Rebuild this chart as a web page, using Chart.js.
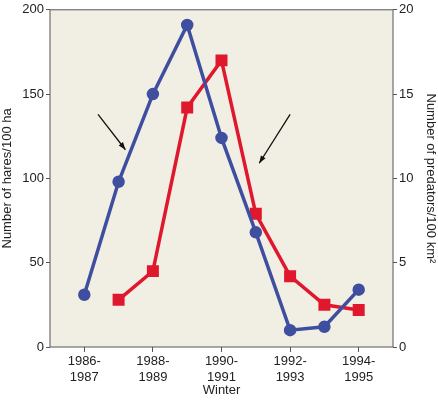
<!DOCTYPE html>
<html lang="en">
<head>
<meta charset="UTF-8">
<title>Hares and lynx</title>
<script src="https://cdn.jsdelivr.net/npm/chart.js"></script>
<style>body{margin:0;background:#fff}</style>
</head>
<body>
<canvas id="c" width="438" height="402"></canvas>
<script>
// winter index 0 = 1986-1987 ... 8 = 1994-1995
const winters = ['1986-1987','1987-1988','1988-1989','1989-1990','1990-1991','1991-1992','1992-1993','1993-1994','1994-1995'];
const tickLabels = {0: ['1986-','1987'], 2: ['1988-','1989'], 4: ['1990-','1991'], 6: ['1992-','1993'], 8: ['1994-','1995']};
const hares = [31, 98, 150, 191, 124, 68, 10, 12, 34];
const predators = [null, 2.8, 4.5, 14.2, 17.0, 7.9, 4.2, 2.5, 2.2];

const blue = '#3f4fa0', red = '#e0182d';
const font = {family: 'Liberation Sans', size: 13};

const bgPlugin = {
  id: 'bg',
  beforeDraw(chart) {
    const {ctx, chartArea: a} = chart;
    ctx.save();
    ctx.fillStyle = '#f1eee3';
    ctx.fillRect(a.left, a.top, a.width, a.height);
    ctx.restore();
  },
  afterDraw(chart) {
    const {ctx, chartArea: a, scales} = chart;
    ctx.save();
    ctx.strokeStyle = '#555';
    ctx.lineWidth = 1;
    ctx.strokeRect(a.left, a.top, a.width, a.height);
    // pointer arrows (in data units)
    const arrow = (x1, y1, x2, y2) => {
      const px1 = scales.x.getPixelForValue(x1), py1 = scales.y.getPixelForValue(y1);
      const px2 = scales.x.getPixelForValue(x2), py2 = scales.y.getPixelForValue(y2);
      ctx.strokeStyle = '#111'; ctx.fillStyle = '#111'; ctx.lineWidth = 1.3;
      ctx.beginPath(); ctx.moveTo(px1, py1); ctx.lineTo(px2, py2); ctx.stroke();
      const ang = Math.atan2(py2 - py1, px2 - px1);
      ctx.beginPath();
      ctx.moveTo(px2, py2);
      ctx.lineTo(px2 - 8 * Math.cos(ang - 0.35), py2 - 8 * Math.sin(ang - 0.35));
      ctx.lineTo(px2 - 8 * Math.cos(ang + 0.35), py2 - 8 * Math.sin(ang + 0.35));
      ctx.closePath(); ctx.fill();
    };
    arrow(0.4, 138, 1.2, 117);
    arrow(6.0, 138, 5.1, 109);
    ctx.restore();
  }
};

new Chart(document.getElementById('c'), {
  type: 'line',
  data: {
    datasets: [
      {
        label: 'Hares',
        data: hares.map((v, i) => ({x: i, y: v})),
        borderColor: blue, backgroundColor: blue,
        borderWidth: 3.5, pointRadius: 4.5, pointStyle: 'circle',
        yAxisID: 'y', tension: 0
      },
      {
        label: 'Predators',
        data: predators.map((v, i) => ({x: i, y: v})).filter(p => p.y !== null),
        borderColor: red, backgroundColor: red,
        borderWidth: 3.5, pointRadius: 6, pointStyle: 'rect',
        yAxisID: 'y2', tension: 0
      }
    ]
  },
  options: {
    responsive: false,
    animation: false,
    layout: {padding: {top: 5, right: 0}},
    plugins: {legend: {display: false}, tooltip: {enabled: false}},
    scales: {
      x: {
        type: 'linear', min: -1, max: 9,
        afterBuildTicks(s) { s.ticks = [0, 2, 4, 6, 8].map(v => ({value: v})); },
        ticks: {callback: v => tickLabels[v], color: '#222', font, maxRotation: 0, padding: 2},
        grid: {drawOnChartArea: false, tickLength: 5, color: '#555'},
        border: {display: false},
        title: {display: true, text: 'Winter', color: '#222', font, padding: {top: 4}},
        afterFit(s) { s.height = 55; }
      },
      y: {
        position: 'left', min: 0, max: 200,
        ticks: {stepSize: 50, color: '#222', font, padding: 2},
        grid: {drawOnChartArea: false, tickLength: 4, color: '#555'},
        border: {display: false},
        title: {display: true, text: 'Number of hares/100 ha', color: '#222', font, padding: 0},
        afterFit(s) { s.width = 50; }
      },
      y2: {
        position: 'right', min: 0, max: 20,
        ticks: {stepSize: 5, color: '#222', font, padding: 2},
        grid: {drawOnChartArea: false, tickLength: 4, color: '#555'},
        border: {display: false},
        title: {display: true, text: 'Number of predators/100 km²', color: '#222', font, padding: 0},
        afterFit(s) { s.width = 45; }
      }
    }
  },
  plugins: [bgPlugin]
});
</script>
</body>
</html>
